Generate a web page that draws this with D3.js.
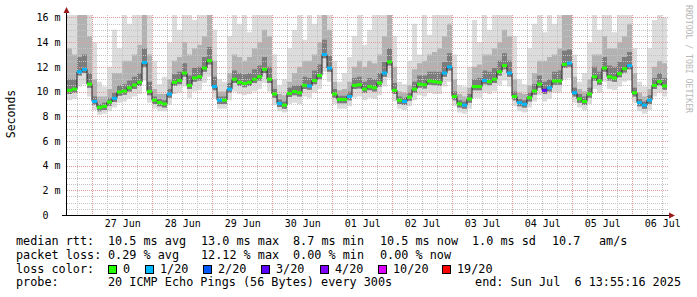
<!DOCTYPE html>
<html>
<head>
<meta charset="utf-8">
<script src="https://cdn.jsdelivr.net/npm/d3@7"></script>
<style>
body { margin: 0; background: #fff; }
svg { display: block; }
text { font-family: "DejaVu Sans Mono", monospace; }
</style>
</head>
<body>
<script>
// 2 hour steps, 10 days ending at the "end:" time of the graph
const endTime = new Date(Date.UTC(2025, 6, 6, 13, 55, 16))
const stepHours = 2

// median rtt in ms, one per step
const medianRtt = [
  10.1, 10.2, 11.6, 11.8, 10.6, 9.2, 8.72, 8.8, 9.15, 9.45, 9.96, 10.04, 10.3, 10.53, 10.75, 12.35, 10.0, 9.3, 9.1, 9.0, 9.8, 10.75, 10.9, 11.5, 10.5, 11.1, 11.2, 11.9, 12.5, 10.4,
  9.3, 9.3, 10.2, 11.0, 10.75, 10.65, 10.75, 11.0, 11.2, 11.8, 11.0, 9.8, 9.04, 8.9, 9.85, 10.0, 9.9, 10.5, 10.45, 10.9, 11.3, 13.0, 11.9, 9.8, 9.35, 9.35, 9.6, 10.5, 10.55, 10.2,
  10.4, 10.3, 10.7, 11.5, 12.4, 10.1, 9.3, 9.2, 9.55, 10.2, 10.6, 10.55, 10.85, 10.8, 10.75, 11.5, 12.0, 9.6, 9.0, 8.9, 9.4, 10.4, 10.4, 10.9, 10.8, 11.0, 11.6, 12.1, 11.5, 9.6,
  9.1, 8.97, 9.5, 10.05, 10.6, 10.1, 10.3, 10.85, 10.85, 12.2, 12.3, 9.9, 9.4, 9.2, 9.8, 11.2, 10.85, 11.9, 11.2, 11.1, 11.45, 11.85, 12.1, 9.9, 9.1, 8.9, 9.3, 10.5, 10.8, 10.45
]

// lost pings out of 20, per step
const lostPings = [
  0, 0, 1, 1, 0, 1, 0, 0, 0, 1, 0, 0, 0, 0, 0, 1, 0, 0, 0, 0, 1, 0, 0, 0, 0, 0, 0, 0, 0, 1,
  1, 0, 1, 0, 0, 0, 0, 0, 0, 0, 0, 0, 1, 0, 0, 0, 0, 0, 1, 0, 0, 1, 1, 0, 0, 0, 1, 0, 0, 0,
  0, 0, 0, 1, 0, 0, 0, 1, 0, 0, 0, 0, 0, 0, 0, 1, 1, 0, 0, 1, 0, 0, 0, 1, 0, 0, 0, 0, 1, 0,
  1, 1, 0, 0, 0, 3, 1, 0, 0, 0, 1, 1, 0, 0, 0, 0, 0, 0, 0, 0, 0, 0, 1, 0, 1, 1, 1, 0, 0, 0
]

// smoke: spread of the 20 pings per step (ms)
const smokeMin = [
  9.3, 9.4, 10.4, 10.6, 9.6, 8.5, 8.1, 8.2, 8.4, 8.7, 9.1, 9.2, 9.4, 9.6, 9.8, 10.9, 9.1, 8.6, 8.4, 8.4, 8.9, 9.8, 9.9, 10.4, 9.5, 10.0, 10.1, 10.7, 11.2, 9.5,
  8.6, 8.6, 9.3, 10.0, 9.8, 9.7, 9.8, 10.0, 10.2, 10.7, 10.0, 8.9, 8.4, 8.3, 9.0, 9.1, 9.0, 9.6, 9.5, 9.9, 10.2, 11.6, 10.8, 9.0, 8.6, 8.6, 8.8, 9.5, 9.6, 9.3,
  9.5, 9.4, 9.7, 10.4, 11.1, 9.2, 8.6, 8.5, 8.8, 9.3, 9.7, 9.6, 9.9, 9.8, 9.8, 10.4, 10.8, 8.8, 8.3, 8.2, 8.6, 9.5, 9.5, 9.9, 9.8, 10.0, 10.5, 10.9, 10.4, 8.8,
  8.4, 8.3, 8.7, 9.2, 9.7, 9.2, 9.4, 9.9, 9.9, 11.0, 11.1, 9.1, 8.7, 8.5, 9.0, 10.2, 9.9, 10.8, 10.2, 10.1, 10.4, 10.8, 10.9, 9.1, 8.4, 8.2, 8.5, 9.6, 9.9, 9.6
]
const smokeLow = [
  9.8, 9.9, 11.3, 11.5, 10.3, 8.9, 8.4, 8.5, 8.85, 9.15, 9.65, 9.75, 10.0, 10.2, 10.45, 12.0, 9.7, 9.0, 8.8, 8.7, 9.5, 10.45, 10.6, 11.2, 10.2, 10.8, 10.9, 11.6, 12.2, 10.1,
  9.0, 9.0, 9.9, 10.7, 10.45, 10.35, 10.45, 10.7, 10.9, 11.5, 10.7, 9.5, 8.75, 8.6, 9.55, 9.7, 9.6, 10.2, 10.15, 10.6, 11.0, 12.7, 11.6, 9.5, 9.05, 9.05, 9.3, 10.2, 10.25, 9.9,
  10.1, 10.0, 10.4, 11.2, 12.1, 9.8, 9.0, 8.9, 9.25, 9.9, 10.3, 10.25, 10.55, 10.5, 10.45, 11.2, 11.7, 9.3, 8.7, 8.6, 9.1, 10.1, 10.1, 10.6, 10.5, 10.7, 11.3, 11.8, 11.2, 9.3,
  8.8, 8.7, 9.2, 9.75, 10.3, 9.8, 10.0, 10.55, 10.55, 11.9, 12.0, 9.6, 9.1, 8.9, 9.5, 10.9, 10.55, 11.6, 10.9, 10.8, 11.15, 11.55, 11.8, 9.6, 8.8, 8.6, 9.0, 10.2, 10.5, 10.15
]
const smokeMid = [
  11.0, 11.0, 12.8, 13.0, 11.5, 9.6, 9.0, 9.1, 9.5, 9.9, 10.5, 10.6, 10.9, 11.2, 11.5, 13.5, 10.8, 9.6, 9.4, 9.3, 10.2, 11.4, 11.6, 12.3, 11.3, 11.9, 12.0, 12.8, 13.6, 11.2,
  9.6, 9.6, 10.7, 11.7, 11.5, 11.4, 11.5, 11.8, 12.1, 12.8, 12.0, 10.2, 9.35, 9.2, 10.3, 10.5, 10.5, 11.2, 11.1, 11.7, 12.2, 14.2, 12.9, 10.2, 9.65, 9.65, 10.0, 11.1, 11.2, 10.8,
  11.1, 11.0, 11.5, 12.4, 13.5, 10.7, 9.6, 9.5, 9.9, 10.8, 11.3, 11.3, 11.6, 11.6, 11.6, 12.4, 13.1, 10.0, 9.3, 9.2, 9.8, 11.0, 11.1, 11.7, 11.6, 11.9, 12.5, 13.1, 12.5, 10.0,
  9.4, 9.3, 9.9, 10.6, 11.3, 10.8, 11.0, 11.6, 11.7, 13.3, 13.4, 10.3, 9.8, 9.6, 10.3, 12.0, 11.6, 12.8, 12.1, 12.0, 12.4, 12.8, 13.2, 10.3, 9.4, 9.2, 9.7, 11.1, 11.5, 11.1
]
const smokeHigh = [
  13.5, 13.0, 16.2, 16.2, 14.5, 11.0, 9.6, 9.6, 10.2, 11.5, 11.5, 12.5, 12.5, 13.0, 13.8, 16.2, 13.0, 10.2, 9.8, 9.8, 11.0, 12.5, 12.8, 14.0, 13.0, 13.5, 13.8, 14.5, 16.2, 12.5,
  10.0, 10.0, 11.5, 13.0, 12.8, 12.5, 12.8, 13.5, 14.0, 15.0, 14.5, 11.0, 9.8, 9.7, 10.8, 11.5, 12.0, 12.5, 12.5, 13.0, 14.0, 16.2, 15.0, 10.8, 10.1, 10.2, 10.8, 12.0, 12.5, 12.0,
  12.5, 12.3, 13.0, 14.5, 16.2, 12.0, 10.0, 9.9, 10.5, 11.8, 12.3, 12.5, 13.0, 13.2, 13.5, 14.5, 15.5, 11.0, 9.8, 9.6, 10.3, 12.0, 12.2, 13.0, 13.0, 13.5, 14.0, 15.0, 14.5, 11.0,
  9.9, 9.8, 10.5, 11.5, 12.5, 12.5, 12.8, 13.0, 13.5, 16.2, 16.2, 11.2, 10.2, 10.0, 11.0, 13.0, 13.0, 14.5, 13.5, 13.5, 14.0, 14.5, 15.5, 11.5, 9.9, 9.6, 10.2, 12.0, 12.5, 12.3
]
const smokeMax = [
  16.2, 16.2, 16.2, 16.2, 16.2, 14.0, 10.8, 10.4, 12.0, 15.0, 13.5, 16.2, 15.5, 16.2, 16.2, 16.2, 16.2, 12.5, 10.6, 11.2, 14.0, 16.2, 15.0, 16.2, 16.2, 15.8, 16.2, 16.2, 16.2, 15.0,
  11.0, 10.8, 14.5, 16.2, 15.5, 16.2, 14.8, 16.2, 16.2, 16.2, 16.2, 13.0, 10.5, 11.0, 13.5, 15.0, 16.2, 14.2, 16.2, 15.5, 16.2, 16.2, 16.2, 12.5, 10.8, 11.5, 12.8, 14.5, 16.2, 13.8,
  15.0, 16.2, 16.2, 16.2, 16.2, 14.5, 10.8, 10.6, 12.5, 15.5, 13.0, 16.2, 14.6, 16.2, 16.2, 16.2, 16.2, 13.0, 10.5, 10.4, 12.0, 15.8, 14.0, 16.2, 15.0, 16.2, 16.2, 16.2, 16.2, 14.5,
  11.0, 10.6, 13.5, 15.5, 16.2, 14.8, 16.2, 15.5, 16.2, 16.2, 16.2, 13.0, 10.8, 11.5, 14.0, 16.2, 15.0, 16.2, 16.2, 14.8, 16.2, 16.2, 16.2, 13.5, 10.8, 10.4, 13.5, 15.8, 16.2, 16.0
]

const yTicks = [0, 2, 4, 6, 8, 10, 12, 14, 16]
const yMax = 16.2

const lossLabels = ["0", "1/20", "2/20", "3/20", "4/20", "10/20", "19/20"]
const lossColors = ["#26ff00", "#00b8ff", "#0059ff", "#5e00ff", "#7e00ff", "#dd00ff", "#ff0000"]
const lossBreaks = [1, 2, 3, 4, 10, 19]

const rttStats = ["10.5 ms avg", "13.0 ms max", "8.7 ms min", "10.5 ms now", "1.0 ms sd", "10.7", "am/s"]
const lossStats = ["0.29 % avg", "12.12 % max", "0.00 % min", "0.00 % now"]
const probeText = "20 ICMP Echo Pings (56 Bytes) every 300s"
const endText = "end: Sun Jul  6 13:55:16 2025"

const svgWidth = 697
const svgHeight = 297
const plot = { left: 67, right: 667, top: 15, bottom: 215 }

const svg = d3.select("body").append("svg")
    .attr("width", svgWidth)
    .attr("height", svgHeight)

svg.append("rect").attr("width", svgWidth).attr("height", svgHeight).attr("fill", "#fff")

const startTime = d3.utcDay.offset(endTime, -10)

const x = d3.scaleUtc()
    .domain([startTime, endTime])
    .range([plot.left, plot.right])

const y = d3.scaleLinear()
    .domain([0, yMax])
    .range([plot.bottom, plot.top])

const lossColor = d3.scaleThreshold().domain(lossBreaks).range(lossColors)

const rows = medianRtt.map((m, i) => ({
    t: d3.utcHour.offset(startTime, i * stepHours),
    t1: d3.utcHour.offset(startTime, (i + 1) * stepHours),
    median: m,
    loss: lostPings[i],
    min: smokeMin[i], low: smokeLow[i], mid: smokeMid[i], high: smokeHigh[i], max: smokeMax[i]
}))
// extra point so the last step reaches the right edge
const stepRows = rows.concat([{ ...rows[rows.length - 1], t: endTime }])

// smoke bands, outer to inner
const bands = [
    ["min", "max", "#dcdcdc"],
    ["low", "high", "#b2b2b2"],
    ["low", "mid", "#7c7c7c"]
]
const smokeG = svg.append("g")
bands.forEach(([lo, hi, col]) => {
    const area = d3.area()
        .curve(d3.curveStepAfter)
        .x(d => x(d.t))
        .y0(d => y(d[lo]))
        .y1(d => y(Math.min(d[hi], yMax)))
    smokeG.append("path")
        .attr("d", area(stepRows))
        .attr("fill", col)
})

// grid
const gridG = svg.append("g").attr("stroke-dasharray", "1,1").attr("shape-rendering", "crispEdges")
const minorX = d3.utcHour.every(6).range(startTime, endTime).filter(d => d.getUTCHours() !== 0)
const majorX = d3.utcDay.range(startTime, endTime)
const minorY = d3.range(0.5, yMax, 0.5).filter(v => v % 2 !== 0)
const majorY = yTicks.filter(v => v > 0)

gridG.selectAll(".mx").data(minorX).join("line")
    .attr("x1", d => Math.round(x(d)) + 0.5).attr("x2", d => Math.round(x(d)) + 0.5)
    .attr("y1", plot.top).attr("y2", plot.bottom)
    .attr("stroke", "#c4c4c4")
gridG.selectAll(".my").data(minorY).join("line")
    .attr("x1", plot.left).attr("x2", plot.right + 2)
    .attr("y1", d => Math.round(y(d)) + 0.5).attr("y2", d => Math.round(y(d)) + 0.5)
    .attr("stroke", "#c4c4c4")
gridG.selectAll(".Mx").data(majorX).join("line")
    .attr("x1", d => Math.round(x(d)) + 0.5).attr("x2", d => Math.round(x(d)) + 0.5)
    .attr("y1", plot.top).attr("y2", plot.bottom)
    .attr("stroke", "#e39a9a")
gridG.selectAll(".My").data(majorY).join("line")
    .attr("x1", plot.left).attr("x2", plot.right + 2)
    .attr("y1", d => Math.round(y(d)) + 0.5).attr("y2", d => Math.round(y(d)) + 0.5)
    .attr("stroke", "#e39a9a")

// median: thin dark step line plus loss coloured segments
const medianLine = d3.line()
    .curve(d3.curveStepAfter)
    .x(d => x(d.t))
    .y(d => y(d.median))
svg.append("path")
    .attr("d", medianLine(stepRows))
    .attr("fill", "none")
    .attr("stroke", "#202020")
    .attr("stroke-width", 1)

svg.append("g").selectAll("rect").data(rows).join("rect")
    .attr("x", d => x(d.t))
    .attr("width", d => x(d.t1) - x(d.t))
    .attr("y", d => y(d.median) - 1.5)
    .attr("height", 3)
    .attr("fill", d => lossColor(d.loss))

// axes
const yAxis = d3.axisLeft(y)
    .tickValues(yTicks)
    .tickSize(0)
    .tickPadding(6)
    .tickFormat(d => d === 0 ? "0\u00a0\u00a0" : d + " m")
svg.append("g")
    .attr("transform", `translate(${plot.left - 0.5},0)`)
    .call(yAxis)
    .call(g => g.select(".domain").remove())
    .selectAll("text")
    .attr("font-family", "DejaVu Sans Mono")
    .attr("font-size", 10)
    .attr("fill", "#000")

const noons = d3.utcDay.range(startTime, endTime).map(d => d3.utcHour.offset(d, 12)).filter(d => d < endTime)
const xAxis = d3.axisBottom(x)
    .tickValues(noons)
    .tickSize(0)
    .tickPadding(5)
    .tickFormat(d3.utcFormat("%d %b"))
svg.append("g")
    .attr("transform", `translate(0,${plot.bottom})`)
    .call(xAxis)
    .call(g => g.select(".domain").remove())
    .selectAll("text")
    .attr("font-family", "DejaVu Sans Mono")
    .attr("font-size", 10)
    .attr("fill", "#000")

// axis lines with arrows
svg.append("line")
    .attr("x1", plot.left - 0.5).attr("x2", plot.left - 0.5)
    .attr("y1", plot.bottom + 1).attr("y2", 9)
    .attr("stroke", "#000")
svg.append("line")
    .attr("x1", 62).attr("x2", 670)
    .attr("y1", plot.bottom + 0.5).attr("y2", plot.bottom + 0.5)
    .attr("stroke", "#000")
svg.append("path")
    .attr("d", `M${plot.left - 3.5},13 L${plot.left - 0.5},7 L${plot.left + 2.5},13 Z`)
    .attr("fill", "#9b1c1c")
svg.append("path")
    .attr("d", `M669,${plot.bottom - 2.5} L675,${plot.bottom + 0.5} L669,${plot.bottom + 3.5} Z`)
    .attr("fill", "#9b1c1c")

// titles
svg.append("text")
    .attr("transform", "translate(15,114) rotate(-90)")
    .attr("text-anchor", "middle")
    .attr("font-size", 11.5)
    .text("Seconds")

svg.append("text")
    .attr("transform", "translate(686,5) rotate(90)")
    .attr("font-size", 8.2)
    .attr("fill", "#b8b8b8")
    .attr("textLength", 108)
    .attr("lengthAdjust", "spacing")
    .text("RRDTOOL / TOBI OETIKER")

// legend
const legend = svg.append("g").attr("font-size", 11.8).attr("fill", "#000")
const rttX = [108, 201, 293, 380, 472, 552, 599]
const lossX = [108, 201, 293, 380]

legend.append("text").attr("x", 16).attr("y", 245).text("median rtt:")
rttStats.forEach((s, i) => legend.append("text").attr("x", rttX[i]).attr("y", 245).text(s))

legend.append("text").attr("x", 16).attr("y", 258.5).text("packet loss:")
lossStats.forEach((s, i) => legend.append("text").attr("x", lossX[i]).attr("y", 258.5).text(s))

legend.append("text").attr("x", 16).attr("y", 272.5).text("loss color:")
const swatchX = [108, 145, 203, 261, 320, 378, 442]
lossLabels.forEach((l, i) => {
    legend.append("rect")
        .attr("x", swatchX[i] + 0.5).attr("y", 265.5)
        .attr("width", 8).attr("height", 8)
        .attr("fill", lossColors[i])
        .attr("stroke", "#000")
    legend.append("text").attr("x", swatchX[i] + 15).attr("y", 272.5).text(l)
})

legend.append("text").attr("x", 16).attr("y", 286).text("probe:")
legend.append("text").attr("x", 108).attr("y", 286).text(probeText)
legend.append("text").attr("x", 681).attr("y", 286).attr("text-anchor", "end")
    .style("white-space", "pre").text(endText)
</script>
</body>
</html>
